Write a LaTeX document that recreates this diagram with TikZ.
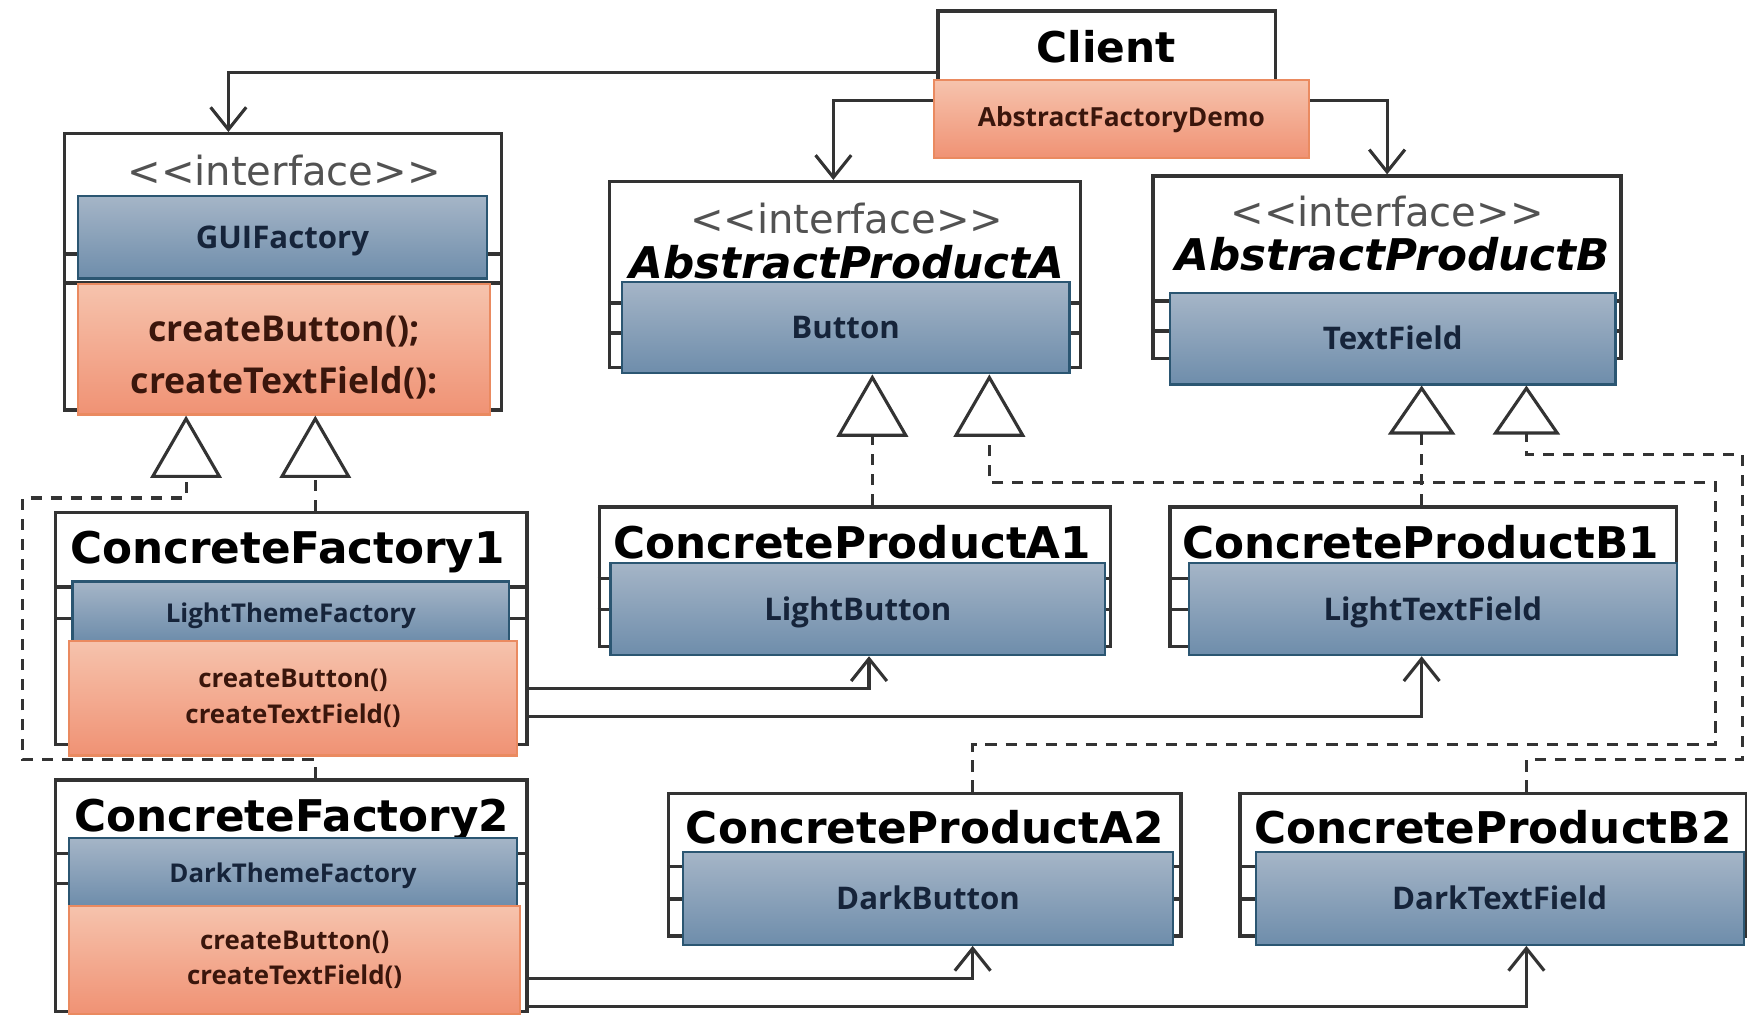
\documentclass[tikz,border=0pt]{standalone}
\usepackage{fontspec}
\usepackage{xcolor}
\usepackage{tikz}
\usetikzlibrary{arrows.meta}
\setmainfont{DejaVu Sans}
\newfontfamily\barfont{Open Sans}
\definecolor{framegray}{HTML}{333333}
\definecolor{bartop}{HTML}{A5B5C7}
\definecolor{barbottom}{HTML}{6E8DAB}
\definecolor{barline}{HTML}{2B5672}
\definecolor{opstop}{HTML}{F6C3AD}
\definecolor{opsbottom}{HTML}{F09274}
\definecolor{opsline}{HTML}{EA8A60}
\definecolor{bartext}{HTML}{16243A}
\definecolor{opstext}{HTML}{3A160C}
\newcommand\px{0.25pt}
\pgfkeys{tikz/umlframe/.style={draw=framegray,fill=white,line width=0.75pt,inner sep=0pt}}
\pgfkeys{tikz/umlsep/.style={draw=framegray,line width=0.75pt}}
\pgfkeys{tikz/umlbar/.style={draw=barline,line width=0.5pt,top color=bartop,bottom color=barbottom,inner sep=0pt,text=bartext,text height=5pt,text depth=0pt,font=\barfont\bfseries\fontsize{7}{8}\selectfont}}
\pgfkeys{tikz/umlops/.style={draw=opsline,line width=0.5pt,top color=opstop,bottom color=opsbottom,inner sep=0pt,text=opstext,align=center}}
\pgfkeys{tikz/umltitle/.style={inner sep=0pt,text height=7pt,text depth=0pt,font=\bfseries\fontsize{9.8}{12}\selectfont}}
\pgfkeys{tikz/abstitle/.style={umltitle,font=\bfseries\itshape\fontsize{9.8}{12}\selectfont}}
\pgfkeys{tikz/stereo/.style={inner sep=0pt,text=framegray!85,font=\fontsize{9}{11}\selectfont}}
\pgfkeys{tikz/uses/.style={draw=framegray,line width=0.7pt,-{Straight Barb[length=5pt,width=8pt]}}}
\pgfkeys{tikz/realizes/.style={draw=framegray,line width=0.7pt,dash pattern=on 2.5pt off 2pt,-{Triangle[open,length=14pt,width=16pt]}}}

\begin{document}
\begin{tikzpicture}[x=\px,y=-\px]
    \useasboundingbox (0,0) rectangle (1568,912);

    % class frames
    \node[umlframe,minimum width=303*\px,minimum height=110*\px] (client) at (993.5,65) {};
    \node[umlframe,minimum width=392*\px,minimum height=248*\px] (gui) at (254,244) {};
    \node[umlframe,minimum width=423*\px,minimum height=167*\px] (prodA) at (758.5,246.5) {};
    \node[umlframe,minimum width=420*\px,minimum height=164*\px] (prodB) at (1245,240) {};
    \node[umlframe,minimum width=423*\px,minimum height=208*\px] (cf1) at (261.5,564) {};
    \node[umlframe,minimum width=423*\px,minimum height=208*\px] (cf2) at (261.5,804) {};
    \node[umlframe,minimum width=459*\px,minimum height=125*\px] (cpa1) at (767.5,517.5) {};
    \node[umlframe,minimum width=455*\px,minimum height=125*\px] (cpb1) at (1277.5,517.5) {};
    \node[umlframe,minimum width=460*\px,minimum height=128*\px] (cpa2) at (830,776) {};
    \node[umlframe,minimum width=455*\px,minimum height=128*\px] (cpb2) at (1340.5,776) {};
    \foreach \n/\ya/\yb in {gui/228/254,prodA/272/299,prodB/270/297,cf1/527/555,cf2/766/793,
                            cpa1/519/547,cpb1/519/547,cpa2/778/807,cpb2/778/807}
        \draw[umlsep] (\n.west |- 0,\ya) -- (\n.east |- 0,\ya) (\n.west |- 0,\yb) -- (\n.east |- 0,\yb);

    % names and stereotypes
    \node[umltitle,font=\bfseries\fontsize{9.5}{12}\selectfont] (clientName) at (993,42) {Client};
    \node[stereo] (guiStereo) at (255,153) {<{}<interface>{}>};
    \node[stereo] (prodAStereo) at (760,196) {<{}<interface>{}>};
    \node[abstitle] (prodAName) at (760,236) {AbstractProductA};
    \node[stereo] (prodBStereo) at (1245,190) {<{}<interface>{}>};
    \node[abstitle] (prodBName) at (1250,229) {AbstractProductB};
    \node[umltitle] (cf1Name) at (258,492) {ConcreteFactory1};
    \node[umltitle] (cf2Name) at (262,732) {ConcreteFactory2};
    \node[umltitle] (cpa1Name) at (765,487) {ConcreteProductA1};
    \node[umltitle] (cpb1Name) at (1275,487) {ConcreteProductB1};
    \node[umltitle] (cpa2Name) at (830,743) {ConcreteProductA2};
    \node[umltitle] (cpb2Name) at (1340,743) {ConcreteProductB2};

    % attribute and operation compartments
    \node[umlops,minimum width=337*\px,minimum height=70*\px,font=\barfont\bfseries\fontsize{5.9}{7}\selectfont] (demo) at (1006.5,107) {AbstractFactoryDemo};
    \node[umlbar,minimum width=367*\px,minimum height=74*\px] (guiBar) at (253.5,213) {GUIFactory};
    \node[umlops,minimum width=370*\px,minimum height=117*\px,text height=20pt,text depth=0pt,font=\barfont\bfseries\fontsize{8}{11.75}\selectfont] (guiOps) at (255,313.5) {createButton();\\createTextField():};
    \node[umlbar,minimum width=402*\px,minimum height=82*\px] (prodABar) at (759,294) {Button};
    \node[umlbar,minimum width=400*\px,minimum height=82*\px] (prodBBar) at (1250,304) {TextField};
    \node[umlbar,minimum width=392*\px,minimum height=53*\px,font=\barfont\bfseries\fontsize{5.8}{7}\selectfont] (cf1Bar) at (261,548.5) {LightThemeFactory};
    \node[umlops,minimum width=402*\px,minimum height=103*\px,font=\barfont\bfseries\fontsize{5.8}{8}\selectfont] (cf1Ops) at (263,626.5) {createButton()\\createTextField()};
    \node[umlbar,minimum width=402*\px,minimum height=61*\px,font=\barfont\bfseries\fontsize{5.8}{7}\selectfont] (cf2Bar) at (263,782.5) {DarkThemeFactory};
    \node[umlops,minimum width=405*\px,minimum height=97*\px,font=\barfont\bfseries\fontsize{5.8}{8}\selectfont] (cf2Ops) at (264.5,861.5) {createButton()\\createTextField()};
    \node[umlbar,minimum width=444*\px,minimum height=83*\px] (cpa1Bar) at (770,546.5) {LightButton};
    \node[umlbar,minimum width=438*\px,minimum height=83*\px] (cpb1Bar) at (1286,546.5) {LightTextField};
    \node[umlbar,minimum width=440*\px,minimum height=83*\px] (cpa2Bar) at (833,806.5) {DarkButton};
    \node[umlbar,minimum width=438*\px,minimum height=83*\px] (cpb2Bar) at (1346,806.5) {DarkTextField};

    % dependencies
    \draw[uses] (client.west) -| ([xshift=-49*\px]gui.north);
    \draw[uses] ([yshift=17*\px]demo.west) -| ([xshift=-10.5*\px]prodA.north);
    \draw[uses] ([yshift=17*\px]demo.east) -| (prodB.north);
    \draw[uses] ([yshift=-54*\px]cf1.east) -| ([xshift=10*\px]cpa1Bar.south);
    \draw[uses] ([yshift=-79*\px]cf1.east) -| ([xshift=-10*\px]cpb1Bar.south);
    \draw[uses] ([yshift=-74*\px]cf2.east) -| ([xshift=40*\px]cpa2Bar.south);
    \draw[uses] ([yshift=-99*\px]cf2.east) -| ([xshift=24*\px]cpb2Bar.south);

    % realizations
    \draw[realizes] ([xshift=21.5*\px]cf1.north) -- ([xshift=28*\px]guiOps.south);
    \draw[realizes] ([xshift=21.5*\px]cf2.north) |- (20,682) |- (167,447) -- ([xshift=-88*\px]guiOps.south);
    \draw[realizes] ([xshift=15.5*\px]cpa1.north) -- ([xshift=24*\px]prodABar.south);
    \draw[realizes] ([xshift=43*\px]cpa2.north) |- (1540,668) |- (888,433) -- ([xshift=129*\px]prodABar.south);
    \draw[realizes,-{Triangle[open,length=11pt,width=15pt]}] ([xshift=-1.5*\px]cpb1.north) -- ([xshift=26*\px]prodBBar.south);
    \draw[realizes,-{Triangle[open,length=11pt,width=15pt]}] ([xshift=29.5*\px]cpb2.north) |- (1564,682) |- (1370,408) -- ([xshift=120*\px]prodBBar.south);
\end{tikzpicture}
\end{document}
